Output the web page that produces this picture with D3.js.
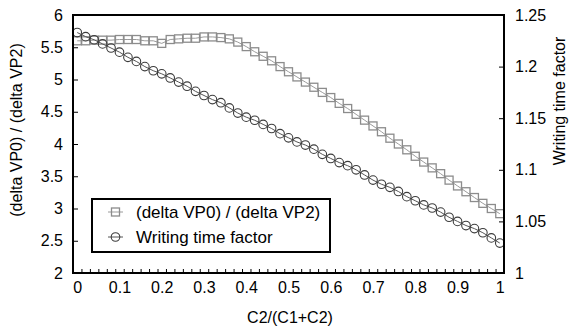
<!DOCTYPE html>
<html>
<head>
<meta charset="utf-8">
<script src="https://cdn.jsdelivr.net/npm/d3@7"></script>
<style>
  body { margin: 0; background: #fff; }
  text { font-family: "Liberation Sans", Arial, sans-serif; fill: #000; }
</style>
</head>
<body>
<div id="container"></div>
<script>
/* ---------- DATA ---------- */
const ratio = [
  0.00, 0.02, 0.04, 0.06, 0.08, 0.10, 0.12, 0.14, 0.16, 0.18,
  0.20, 0.22, 0.24, 0.26, 0.28, 0.30, 0.32, 0.34, 0.36, 0.38,
  0.40, 0.42, 0.44, 0.46, 0.48, 0.50, 0.52, 0.54, 0.56, 0.58,
  0.60, 0.62, 0.64, 0.66, 0.68, 0.70, 0.72, 0.74, 0.76, 0.78,
  0.80, 0.82, 0.84, 0.86, 0.88, 0.90, 0.92, 0.94, 0.96, 0.98, 1.00
];
const deltaVP = [
  5.60, 5.60, 5.61, 5.61, 5.61, 5.62, 5.62, 5.62, 5.60, 5.60,
  5.56, 5.62, 5.63, 5.64, 5.64, 5.66, 5.66, 5.65, 5.63, 5.58,
  5.51, 5.43, 5.36, 5.29, 5.20, 5.12, 5.04, 4.96, 4.88, 4.80,
  4.72, 4.63, 4.55, 4.46, 4.37, 4.28, 4.19, 4.09, 4.00, 3.91,
  3.81, 3.72, 3.63, 3.54, 3.44, 3.35, 3.26, 3.17, 3.08, 3.00, 2.92
];
const writingTime = [
  1.233, 1.229, 1.226, 1.222, 1.218, 1.214, 1.209, 1.205, 1.200, 1.196,
  1.193, 1.189, 1.185, 1.181, 1.176, 1.172, 1.168, 1.165, 1.160, 1.155,
  1.151, 1.148, 1.144, 1.140, 1.135, 1.131, 1.127, 1.124, 1.120, 1.115,
  1.111, 1.107, 1.104, 1.100, 1.095, 1.090, 1.086, 1.083, 1.079, 1.074,
  1.070, 1.066, 1.063, 1.059, 1.054, 1.050, 1.046, 1.043, 1.039, 1.034, 1.029
];
const xTickLabels = ["0", "0.1", "0.2", "0.3", "0.4", "0.5", "0.6", "0.7", "0.8", "0.9", "1"];
const leftTicks = [2, 2.5, 3, 3.5, 4, 4.5, 5, 5.5, 6];
const rightTicks = [1, 1.05, 1.1, 1.15, 1.2, 1.25];
const seriesNames = ["(delta VP0) / (delta VP2)", "Writing time factor"];

/* ---------- LAYOUT ---------- */
const width = 573, height = 329,
  margin = { top: 15, bottom: 56, left: 73, right: 69 };
const plotRight = width - margin.right, plotBottom = height - margin.bottom;

const svg = d3.select("#container").append("svg")
  .attr("width", width).attr("height", height);

// categories sit between tick marks, like a spreadsheet line chart
const xScale = d3.scaleLinear().domain([-0.01, 1.01]).range([margin.left, plotRight]);
const yLeft = d3.scaleLinear().domain([2, 6]).range([plotBottom, margin.top]);
const yRight = d3.scaleLinear().domain([1, 1.25]).range([plotBottom, margin.top]);

// + AXES
const minorX = d3.range(52).map(i => -0.01 + i * 0.02);
svg.append("g")
  .attr("transform", `translate(0,${plotBottom})`)
  .call(d3.axisTop(xScale).tickValues(minorX).tickSize(4).tickFormat(""))
  .call(g => g.select(".domain").remove())
  .call(g => g.selectAll("line").attr("stroke", "#000"));

svg.append("g")
  .attr("transform", `translate(0,${plotBottom})`)
  .call(d3.axisBottom(xScale).tickValues(xTickLabels.map(Number)).tickSize(0).tickPadding(9)
    .tickFormat((d, i) => xTickLabels[i]))
  .call(g => g.select(".domain").remove())
  .call(g => g.selectAll("text").style("font-size", "16px"));

svg.append("g")
  .attr("transform", `translate(${margin.left},0)`)
  .call(d3.axisRight(yLeft).tickValues(leftTicks).tickSize(5).tickFormat(""))
  .call(g => g.select(".domain").remove());
svg.append("g")
  .attr("transform", `translate(${margin.left},0)`)
  .call(d3.axisLeft(yLeft).tickValues(leftTicks).tickSize(0).tickPadding(10).tickFormat(d => String(d)))
  .call(g => g.select(".domain").remove())
  .call(g => g.selectAll("text").style("font-size", "16px"));

svg.append("g")
  .attr("transform", `translate(${plotRight},0)`)
  .call(d3.axisLeft(yRight).tickValues(rightTicks).tickSize(5).tickFormat(""))
  .call(g => g.select(".domain").remove());
svg.append("g")
  .attr("transform", `translate(${plotRight},0)`)
  .call(d3.axisRight(yRight).tickValues(rightTicks).tickSize(0).tickPadding(11).tickFormat(d => String(d)))
  .call(g => g.select(".domain").remove())
  .call(g => g.selectAll("text").style("font-size", "16px"));

// + AXIS TITLES
svg.append("text")
  .attr("x", 290).attr("y", 323)
  .attr("text-anchor", "middle").style("font-size", "16px")
  .text("C2/(C1+C2)");
svg.append("text")
  .attr("transform", "translate(22,130) rotate(-90)")
  .attr("text-anchor", "middle").style("font-size", "16px")
  .text("(delta VP0) / (delta VP2)");
svg.append("text")
  .attr("transform", "translate(565,101) rotate(-90)")
  .attr("text-anchor", "middle").style("font-size", "16px")
  .text("Writing time factor");

// + SERIES
const ptsA = ratio.map((x, i) => [xScale(x), yLeft(deltaVP[i])]);
const ptsB = ratio.map((x, i) => [xScale(x), yRight(writingTime[i])]);

svg.append("path").attr("d", d3.line()(ptsA))
  .attr("fill", "none").attr("stroke", "#9a9a9a").attr("stroke-width", 1);
svg.selectAll("rect.sq").data(ptsA).join("rect")
  .attr("class", "sq")
  .attr("x", d => d[0] - 4).attr("y", d => d[1] - 4)
  .attr("width", 8).attr("height", 8)
  .attr("fill", "none").attr("stroke", "#8c8c8c").attr("stroke-width", 1.3);

svg.append("path").attr("d", d3.line()(ptsB))
  .attr("fill", "none").attr("stroke", "#555").attr("stroke-width", 1);
svg.selectAll("circle.ci").data(ptsB).join("circle")
  .attr("class", "ci")
  .attr("cx", d => d[0]).attr("cy", d => d[1]).attr("r", 4.3)
  .attr("fill", "none").attr("stroke", "#3c3c3c").attr("stroke-width", 1.1);

// + PLOT FRAME
svg.append("rect")
  .attr("x", margin.left).attr("y", margin.top)
  .attr("width", plotRight - margin.left).attr("height", plotBottom - margin.top)
  .attr("fill", "none").attr("stroke", "#000").attr("stroke-width", 2);

// + LEGEND
const legend = svg.append("g");
legend.append("rect")
  .attr("x", 92).attr("y", 199).attr("width", 238).attr("height", 53)
  .attr("fill", "#fff").attr("stroke", "#000").attr("stroke-width", 2);
const rows = [212, 237];
rows.forEach((y, i) => {
  legend.append("line").attr("x1", 108).attr("x2", 123).attr("y1", y).attr("y2", y)
    .attr("stroke", i === 0 ? "#9a9a9a" : "#555");
  if (i === 0) {
    legend.append("rect").attr("x", 111.5).attr("y", y - 4).attr("width", 8).attr("height", 8)
      .attr("fill", "none").attr("stroke", "#8c8c8c").attr("stroke-width", 1.3);
  } else {
    legend.append("circle").attr("cx", 115.5).attr("cy", y).attr("r", 4.3)
      .attr("fill", "none").attr("stroke", "#3c3c3c").attr("stroke-width", 1.1);
  }
  legend.append("text").attr("x", 136).attr("y", y + 6)
    .style("font-size", "17px").text(seriesNames[i]);
});
</script>
</body>
</html>
